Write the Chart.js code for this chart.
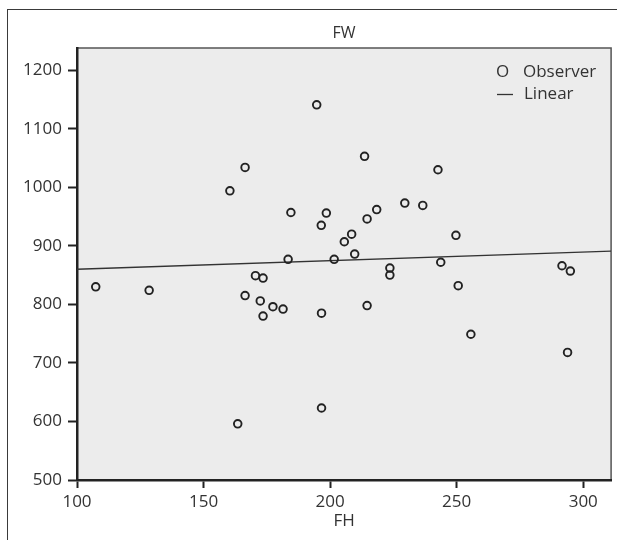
<!DOCTYPE html>
<html>
<head>
<meta charset="utf-8">
<script src="https://cdn.jsdelivr.net/npm/chart.js@4/dist/chart.umd.min.js"></script>
<style>
  html, body { margin: 0; padding: 0; overflow: hidden; background: #fff; }
  #frame { position: absolute; left: 7px; top: 9px; width: 700px; height: 700px; border: 1.5px solid #3a3a3a; }
  #chart { position: absolute; left: 0; top: 0; }
</style>
</head>
<body>
<div id="frame"></div>
<canvas id="chart" width="617" height="540"></canvas>
<script>
// observed points (FH, FW)
const fhValues = [107.4, 128.5, 160.4, 163.5, 166.4, 166.4, 170.5, 173.5, 172.4, 173.5,
  177.4, 181.4, 183.4, 184.5, 194.7, 196.5, 198.5, 196.6, 196.6, 201.6,
  205.6, 208.5, 209.7, 213.6, 214.6, 214.6, 218.4, 223.6, 223.6, 229.5,
  236.6, 242.6, 243.7, 249.7, 250.6, 255.6, 291.6, 294.9, 293.8];
const fwValues = [830, 824, 994, 596, 1034, 815, 849, 845, 806, 780,
  796, 792, 877, 957, 1141, 935, 956, 785, 623, 877,
  907, 920, 886, 1053, 946, 798, 962, 862, 850, 973,
  969, 1030, 872, 918, 832, 749, 866, 857, 718];

// fitted line end points
const lineFH = [100, 311];
const lineFW = [860, 891];

const xTicks = [100, 150, 200, 250, 300];
const yTicks = [500, 600, 700, 800, 900, 1000, 1100, 1200];

const titleText = "FW";
const xTitle = "FH";
const legendItems = ["Observer", "Linear"];

const fontFamily = "'Open Sans', 'DejaVu Sans', sans-serif";
const textColor = "#333";

const observed = fhValues.map((x, i) => ({ x: x, y: fwValues[i] }));
const fitted = lineFH.map((x, i) => ({ x: x, y: lineFW[i] }));

const panelPlugin = {
  id: "panel",
  beforeDraw(chart) {
    const { ctx, chartArea: a } = chart;
    ctx.save();
    ctx.fillStyle = "#ececec";
    ctx.fillRect(a.left, a.top, a.right - a.left, a.bottom - a.top);
    ctx.strokeStyle = "#555";
    ctx.lineWidth = 1.5;
    ctx.beginPath();
    ctx.moveTo(a.left, a.top);
    ctx.lineTo(a.right, a.top);
    ctx.lineTo(a.right, a.bottom);
    ctx.stroke();
    ctx.restore();
  },
  afterDraw(chart) {
    const { ctx, chartArea: a } = chart;
    ctx.save();
    ctx.fillStyle = textColor;
    ctx.font = "16px " + fontFamily;
    ctx.textAlign = "center";
    ctx.textBaseline = "middle";
    ctx.fillText(titleText, (a.left + a.right) / 2, 33);

    // legend
    ctx.font = "17px " + fontFamily;
    ctx.textAlign = "left";
    ctx.fillText("O", 496, 72);
    ctx.fillText(legendItems[0], 523, 72);
    ctx.strokeStyle = "#333";
    ctx.lineWidth = 1.3;
    ctx.beginPath();
    ctx.moveTo(497, 94.5);
    ctx.lineTo(513, 94.5);
    ctx.stroke();
    ctx.fillText(legendItems[1], 524, 94);
    ctx.restore();
  }
};

new Chart(document.getElementById("chart"), {
  type: "scatter",
  data: {
    datasets: [
      {
        label: legendItems[0],
        data: observed,
        pointStyle: "circle",
        pointRadius: 3.8,
        pointBorderWidth: 1.9,
        pointBorderColor: "#222",
        pointBackgroundColor: "rgba(0,0,0,0)",
        showLine: false
      },
      {
        label: legendItems[1],
        data: fitted,
        showLine: true,
        borderColor: "#333",
        borderWidth: 1.4,
        pointRadius: 0
      }
    ]
  },
  options: {
    responsive: false,
    animation: false,
    devicePixelRatio: 1,
    layout: { padding: { top: 48, right: 5, left: 0, bottom: 0 } },
    plugins: {
      legend: { display: false },
      title: { display: false },
      tooltip: { enabled: false }
    },
    scales: {
      x: {
        type: "linear",
        min: 100,
        max: 311,
        afterBuildTicks: (s) => { s.ticks = xTicks.map(v => ({ value: v })); },
        afterFit: (s) => { s.height = 60; },
        grid: { drawOnChartArea: false, drawTicks: true, tickLength: 8, tickWidth: 2, tickColor: "#222" },
        border: { display: true, color: "#222", width: 2.5 },
        ticks: { padding: 4, color: textColor, font: { family: fontFamily, size: 17 }, maxRotation: 0,
          callback: (v) => String(v) },
        title: { display: true, text: xTitle, color: textColor, font: { family: fontFamily, size: 17 }, padding: { top: 9, bottom: 9 } }
      },
      y: {
        type: "linear",
        min: 500,
        max: 1238,
        afterBuildTicks: (s) => { s.ticks = yTicks.map(v => ({ value: v })); },
        afterFit: (s) => { s.width = 77; },
        grid: { drawOnChartArea: false, drawTicks: true, tickLength: 9, tickWidth: 2, tickColor: "#222" },
        border: { display: true, color: "#222", width: 2.5 },
        ticks: { padding: 6, color: textColor, font: { family: fontFamily, size: 17 },
          callback: (v) => String(v) }
      }
    }
  },
  plugins: [panelPlugin]
});
</script>
</body>
</html>
